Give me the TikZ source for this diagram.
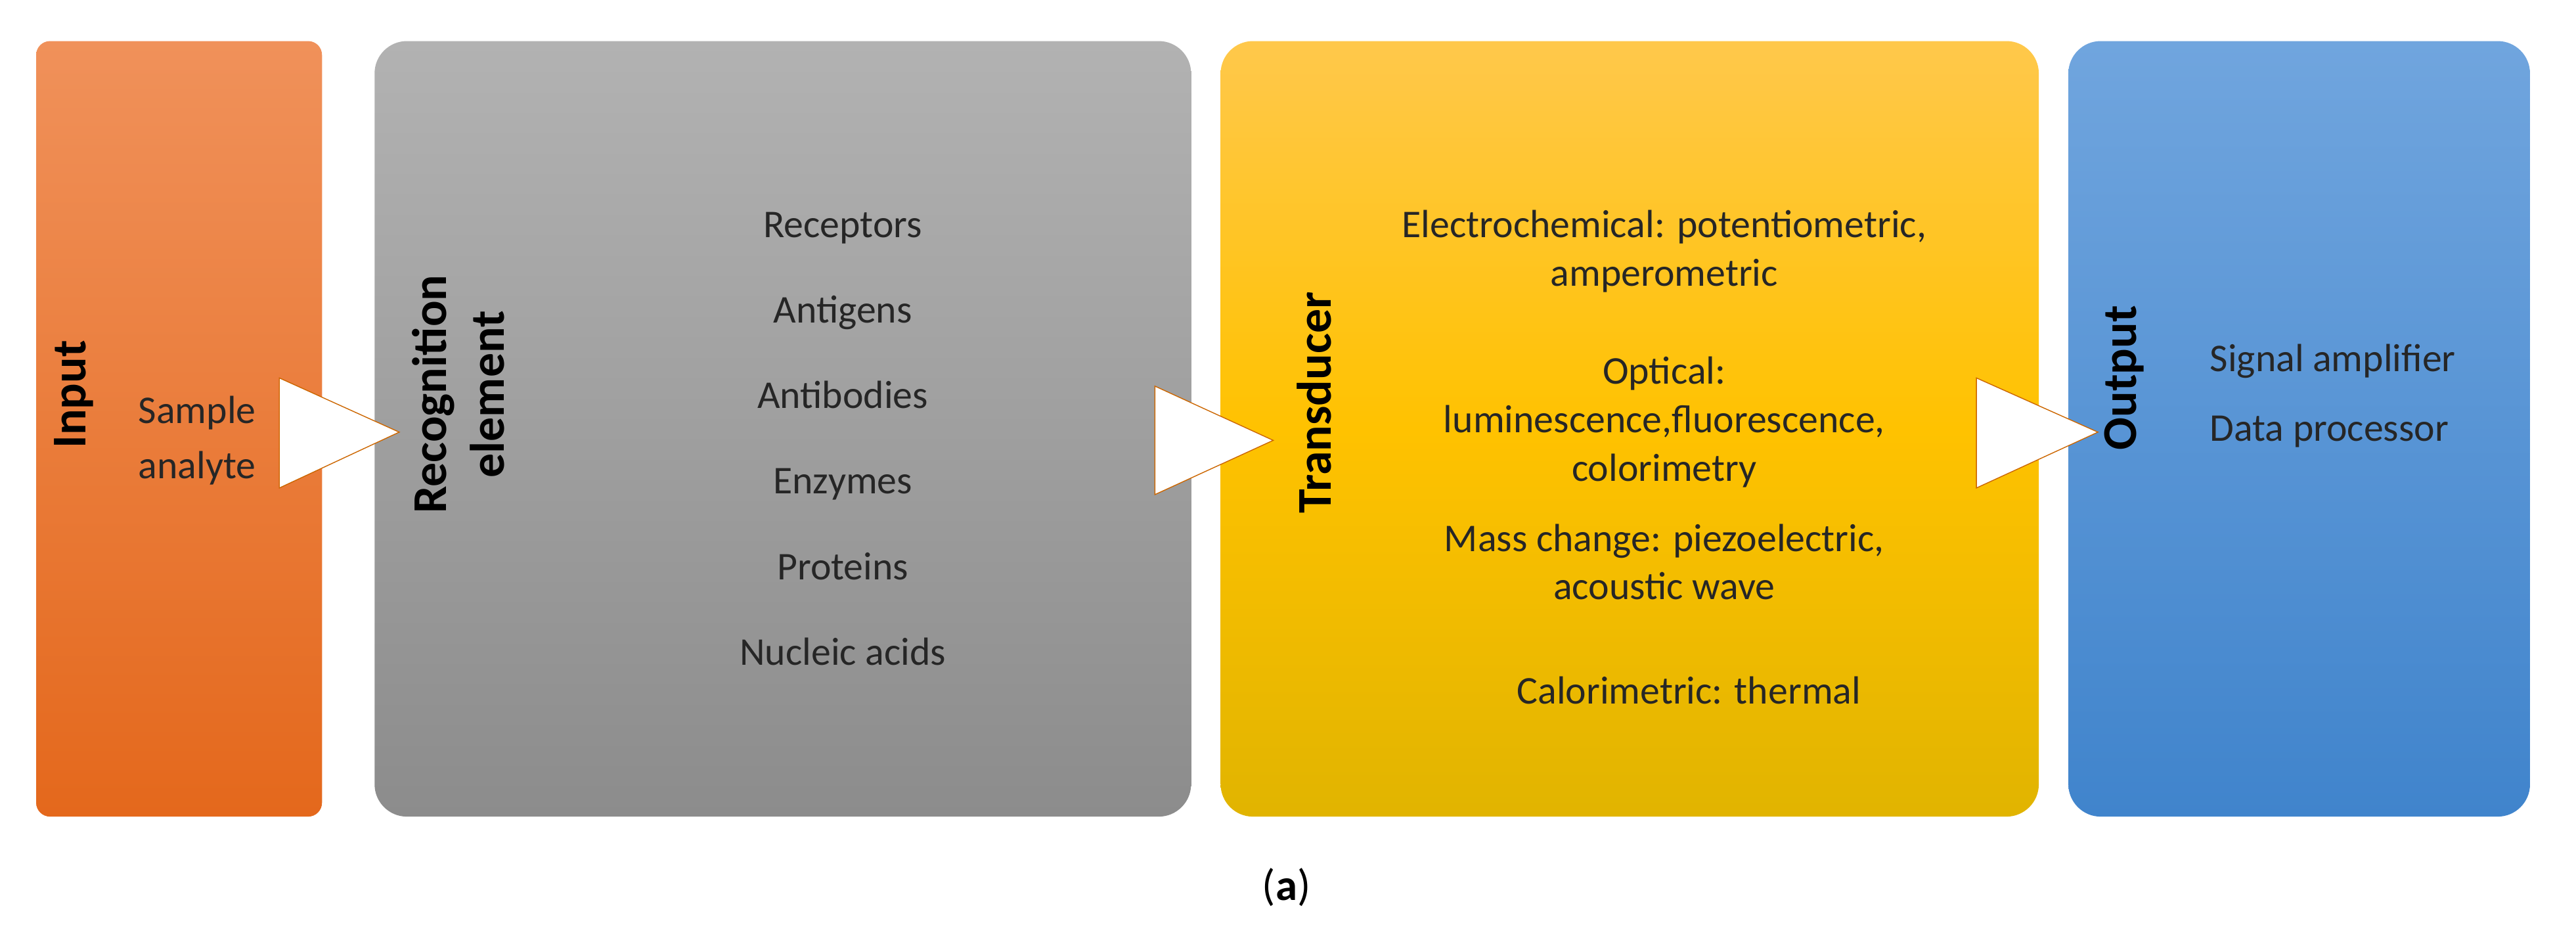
\documentclass[tikz,border=0pt]{standalone}
\usepackage{fontspec}
\setmainfont{Carlito}
\begin{document}
\begin{tikzpicture}[x=0.025cm,y=-0.025cm,
 lab/.style={font=\fontsize{17}{21}\selectfont, align=center, text=black!85},
 ttl/.style={font=\fontsize{21}{25}\selectfont\bfseries, rotate=90, align=center},
 arr/.style={fill=white, draw=orange!80!black, line width=0.4pt}]
\useasboundingbox (0,0) rectangle (1568,573);
\shade[top color={rgb,255:red,240;green,145;blue,90}, bottom color={rgb,255:red,228;green,104;blue,28}, rounded corners=6pt] (22,25) rectangle (196,497);
\shade[top color={rgb,255:red,178;green,178;blue,178}, bottom color={rgb,255:red,140;green,140;blue,140}, rounded corners=14pt] (228,25) rectangle (725,497);
\shade[top color={rgb,255:red,255;green,200;blue,75}, bottom color={rgb,255:red,225;green,180;blue,0}, middle color={rgb,255:red,255;green,194;blue,0}, rounded corners=14pt] (743,25) rectangle (1241,497);
\shade[top color={rgb,255:red,112;green,165;blue,222}, bottom color={rgb,255:red,64;green,132;blue,204}, rounded corners=14pt] (1259,25) rectangle (1540,497);

\node[ttl] (tin) at (45,240) {Input};
\node[ttl] (trec) at (279,240) {Recognition\\element};
\node[ttl] (ttr) at (800,245) {Transducer};
\node[ttl] (tout) at (1293,230) {Output};

\node[lab] (sa) at (120,268) {Sample\\[3pt]analyte};
\node[lab, align=center] (rl) at (513,267) {Receptors\\[16pt]Antigens\\[16pt]Antibodies\\[16pt]Enzymes\\[16pt]Proteins\\[16pt]Nucleic acids};
\node[lab] (t1) at (1013,153) {Electrochemical: potentiometric,\\amperometric};
\node[lab] (t2) at (1013,257) {Optical:\\luminescence,fluorescence,\\colorimetry};
\node[lab] (t3) at (1013,342) {Mass change: piezoelectric,\\acoustic wave};
\node[lab] (t4) at (1028,420) {Calorimetric: thermal};
\node[lab, align=left] (ol) at (1420,241) {Signal amplifier\\[9pt]Data processor};

\coordinate (a1) at (243,263);
\coordinate (a2) at (775,268);
\coordinate (a3) at (1277,263);
\draw[arr] (170,230) -- (a1) -- (170,297) -- cycle;
\draw[arr] (703,235) -- (a2) -- (703,301) -- cycle;
\draw[arr] (1203,230) -- (a3) -- (1203,297) -- cycle;

\node[font=\fontsize{19}{22}\selectfont] (cap) at (783,540) {(\textbf{a})};
\end{tikzpicture}
\end{document}
